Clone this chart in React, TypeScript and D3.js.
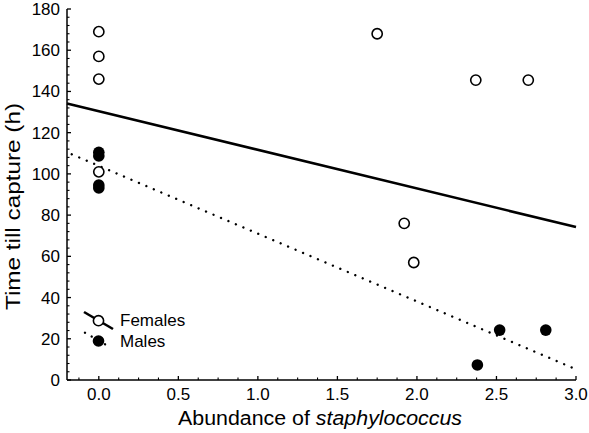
import React from "react";
import * as d3 from "d3";

const femalesX = [0, 0, 0, 0, 1.75, 1.92, 1.98, 2.37, 2.70];
const femalesY = [169, 157, 146, 101, 168, 76, 57, 145.5, 145.5];
const malesX = [0, 0, 0, 0, 2.38, 2.52, 2.81];
const malesY = [110.5, 108.7, 94.6, 93.2, 7.3, 24.2, 24.2];
const femaleFitX = [-0.2, 3.0];
const femaleFitY = [134.2, 74.2];
const maleFitX = [-0.17, 3.0];
const maleFitY = [109.5, 5.2];
const xTicks = [0, 0.5, 1.0, 1.5, 2.0, 2.5, 3.0];
const yTicks = [0, 20, 40, 60, 80, 100, 120, 140, 160, 180];

const W = 589;
const H = 433;
const FONT = "Arial, 'Liberation Sans', sans-serif";

export default function App() {
  const x = d3.scaleLinear().domain([-0.2, 3.0]).range([67, 576]);
  const y = d3.scaleLinear().domain([0, 180]).range([380, 9]);
  const line = d3
    .line<[number, number]>()
    .x((d) => x(d[0]))
    .y((d) => y(d[1]));

  const xMinor = d3.range(-0.125, 3.0001, 0.125).filter((v) => Math.abs(v * 2 - Math.round(v * 2)) > 1e-6);
  const yMinor = d3.range(0, 180.001, 4).filter((v) => v % 20 !== 0);

  const fLine = femaleFitX.map((v, i) => [v, femaleFitY[i]] as [number, number]);
  const mLine = maleFitX.map((v, i) => [v, maleFitY[i]] as [number, number]);

  const x0 = x.range()[0];
  const y0 = y.range()[0];

  return (
    <svg width={W} height={H} style={{ position: "absolute", left: 0, top: 0, background: "#fff" }} fontFamily={FONT}>
      {/* axes */}
      <line x1={x0} x2={x0} y1={y(180)} y2={y0} stroke="#000" strokeWidth={1.5} />
      <line x1={x0} x2={x(3.0)} y1={y0} y2={y0} stroke="#000" strokeWidth={1.5} />
      {yTicks.map((t) => (
        <g key={"yt" + t}>
          <line x1={x0} x2={x0 + 4} y1={y(t)} y2={y(t)} stroke="#000" strokeWidth={1.3} />
          <text x={60} y={y(t)} dy="0.35em" textAnchor="end" fontSize={17} fill="#000">
            {t}
          </text>
        </g>
      ))}
      {yMinor.map((t) => (
        <line key={"ym" + t} x1={x0} x2={x0 + 2.5} y1={y(t)} y2={y(t)} stroke="#000" strokeWidth={1.1} />
      ))}
      {xTicks.map((t) => (
        <g key={"xt" + t}>
          <line x1={x(t)} x2={x(t)} y1={y0} y2={y0 - 4} stroke="#000" strokeWidth={1.3} />
          <text x={x(t)} y={400} textAnchor="middle" fontSize={17} fill="#000">
            {t.toFixed(1)}
          </text>
        </g>
      ))}
      {xMinor.map((t) => (
        <line key={"xm" + t} x1={x(t)} x2={x(t)} y1={y0} y2={y0 - 2.5} stroke="#000" strokeWidth={1.1} />
      ))}

      {/* axis titles */}
      <text x={178} y={425} fontSize={20} fill="#000" textLength={284} lengthAdjust="spacingAndGlyphs">
        Abundance of <tspan fontStyle="italic">staphylococcus</tspan>
      </text>
      <text
        transform={`translate(20,310) rotate(-90)`}
        x={0}
        y={0}
        fontSize={20}
        fill="#000"
        textLength={207}
        lengthAdjust="spacingAndGlyphs"
      >
        Time till capture (h)
      </text>

      {/* fit lines */}
      <path d={line(fLine) || ""} fill="none" stroke="#000" strokeWidth={2.6} />
      <path
        d={line(mLine) || ""}
        fill="none"
        stroke="#000"
        strokeWidth={2.4}
        strokeLinecap="round"
        strokeDasharray="0.01 8.1"
      />

      {/* points */}
      {femalesX.map((v, i) => (
        <circle key={"f" + i} cx={x(v)} cy={y(femalesY[i])} r={5.1} fill="#fff" stroke="#000" strokeWidth={1.6} />
      ))}
      {malesX.map((v, i) => (
        <circle key={"m" + i} cx={x(v)} cy={y(malesY[i])} r={5.8} fill="#000" />
      ))}

      {/* legend */}
      <line x1={84} y1={312} x2={113} y2={329} stroke="#000" strokeWidth={2.6} />
      <circle cx={98.5} cy={320.7} r={5.1} fill="#fff" stroke="#000" strokeWidth={1.6} />
      <text x={120} y={326} fontSize={17} fill="#000">
        Females
      </text>
      <line
        x1={85}
        y1={332.7}
        x2={108}
        y2={346}
        stroke="#000"
        strokeWidth={2.4}
        strokeLinecap="round"
        strokeDasharray="0.01 7.7"
      />
      <circle cx={98.5} cy={341} r={5.8} fill="#000" />
      <text x={120} y={347} fontSize={17} fill="#000">
        Males
      </text>
    </svg>
  );
}
